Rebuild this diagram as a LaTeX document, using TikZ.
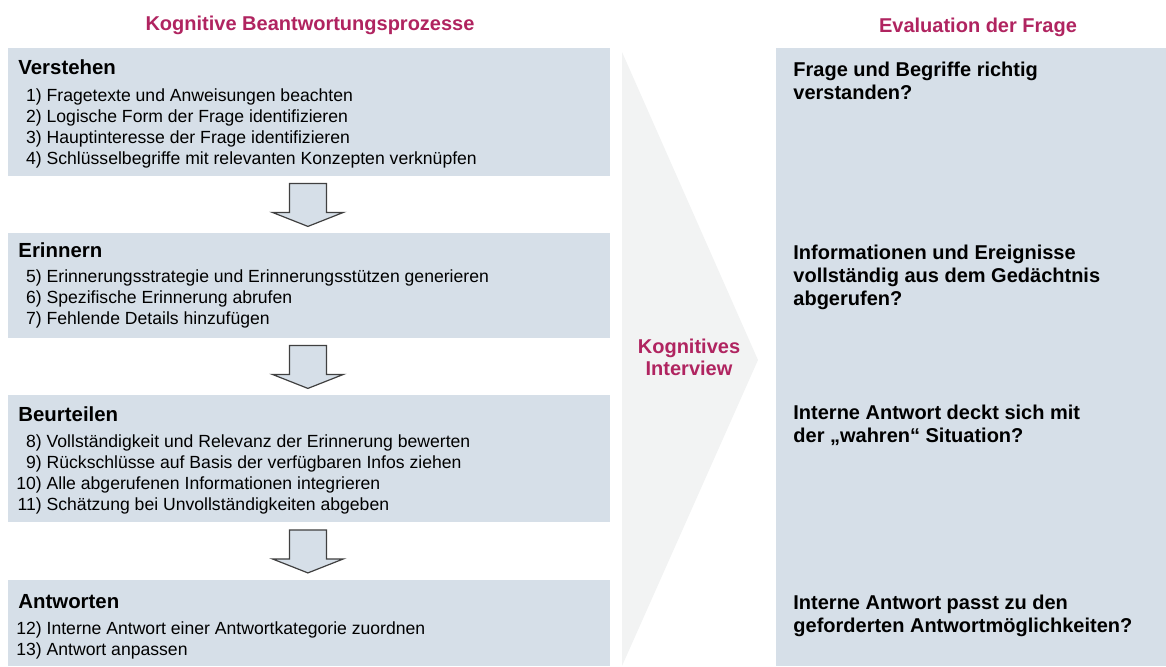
\documentclass[tikz,border=0pt]{standalone}
\usepackage{fontspec}
\setmainfont{Liberation Sans}
\usetikzlibrary{calc}

\definecolor{boxblue}{RGB}{214,223,232}
\definecolor{headred}{RGB}{176,36,96}
\definecolor{chevgray}{RGB}{242,243,243}
\definecolor{edgegray}{RGB}{64,64,64}

\tikzset{
  box/.style={fill=boxblue, anchor=north west, inner sep=0pt},
  boxtitle/.style={anchor=west, inner sep=0pt, font=\bfseries\fontsize{10.2}{12}\selectfont},
  boxitems/.style={anchor=west, align=left, inner sep=0pt, font=\fontsize{8.8}{10.5}\selectfont},
  evaltext/.style={anchor=west, align=left, inner sep=0pt, font=\bfseries\fontsize{10}{11.5}\selectfont},
  header/.style={inner sep=0pt, text=headred, font=\bfseries\fontsize{10}{11}\selectfont},
  blockarrow/.style={draw=edgegray, fill=boxblue, line width=0.6pt, line join=miter}
}
\newcommand{\itm}[2]{\makebox[12.7pt][r]{#1}~#2}
% block arrow pointing down, centred on a coordinate
\newcommand{\blockdown}[1]{%
  \draw[blockarrow] ($(#1)+(-18.5,-21.5)$) -- ($(#1)+(18.5,-21.5)$) -- ($(#1)+(18.5,7.5)$)
    -- ($(#1)+(35.5,7.5)$) -- ($(#1)+(0,21.5)$) -- ($(#1)+(-35.5,7.5)$) -- ($(#1)+(-18.5,7.5)$) -- cycle;}

\begin{document}
\begin{tikzpicture}[x=0.5pt, y=-0.5pt]
\useasboundingbox (0,0) rectangle (1166,666);

% headers
\node[header] (kbp) at (310,25) {Kognitive Beantwortungsprozesse};
\node[header] (edf) at (978,27) {Evaluation der Frage};

% left column
\node[box, minimum width=301pt, minimum height=64pt] (verstehen) at (8,48) {};
\node[box, minimum width=301pt, minimum height=52.5pt] (erinnern) at (8,233) {};
\node[box, minimum width=301pt, minimum height=63.5pt] (beurteilen) at (8,395) {};
\node[box, minimum width=301pt, minimum height=43pt] (antworten) at (8,580) {};

\node[boxtitle] (t1) at (18,67) {Verstehen};
\node[boxitems] (i1) at (16,128) {\itm{1)}{Fragetexte und Anweisungen beachten}\\
  \itm{2)}{Logische Form der Frage identifizieren}\\
  \itm{3)}{Hauptinteresse der Frage identifizieren}\\
  \itm{4)}{Schlüsselbegriffe mit relevanten Konzepten verknüpfen}};

\node[boxtitle] (t2) at (18,250) {Erinnern};
\node[boxitems] (i2) at (16,299) {\itm{5)}{Erinnerungsstrategie und Erinnerungsstützen generieren}\\
  \itm{6)}{Spezifische Erinnerung abrufen}\\
  \itm{7)}{Fehlende Details hinzufügen}};

\node[boxtitle] (t3) at (18,414) {Beurteilen};
\node[boxitems] (i3) at (16,474.5) {\itm{8)}{Vollständigkeit und Relevanz der Erinnerung bewerten}\\
  \itm{9)}{Rückschlüsse auf Basis der verfügbaren Infos ziehen}\\
  \itm{10)}{Alle abgerufenen Informationen integrieren}\\
  \itm{11)}{Schätzung bei Unvollständigkeiten abgeben}};

\node[boxtitle] (t4) at (18,602) {Antworten};
\node[boxitems] (i4) at (16,640.5) {\itm{12)}{Interne Antwort einer Antwortkategorie zuordnen}\\
  \itm{13)}{Antwort anpassen}};

% arrows between the steps
\coordinate (a1) at ($(verstehen.south)!0.5!(erinnern.north)+(-1.5,0)$);
\coordinate (a2) at ($(erinnern.south)!0.5!(beurteilen.north)+(-1.5,0)$);
\coordinate (a3) at ($(beurteilen.south)!0.5!(antworten.north)+(-1.5,0)$);
\blockdown{a1}
\blockdown{a2}
\blockdown{a3}

% chevron
\fill[chevgray] (622,52) -- (758,360) -- (622,666) -- cycle;
\node[header, align=center] (ki) at (689,357) {Kognitives\\Interview};

% right column
\node[box, minimum width=195pt, minimum height=309pt] (eval) at (776,48) {};
\node[evaltext] (e1) at (793,81) {Frage und Begriffe richtig\\verstanden?};
\node[evaltext] (e2) at (793,277) {Informationen und Ereignisse\\vollständig aus dem Gedächtnis\\abgerufen?};
\node[evaltext] (e3) at (793,425) {Interne Antwort deckt sich mit\\der „wahren“ Situation?};
\node[evaltext] (e4) at (793,616) {Interne Antwort passt zu den\\geforderten Antwortmöglichkeiten?};
\end{tikzpicture}
\end{document}
